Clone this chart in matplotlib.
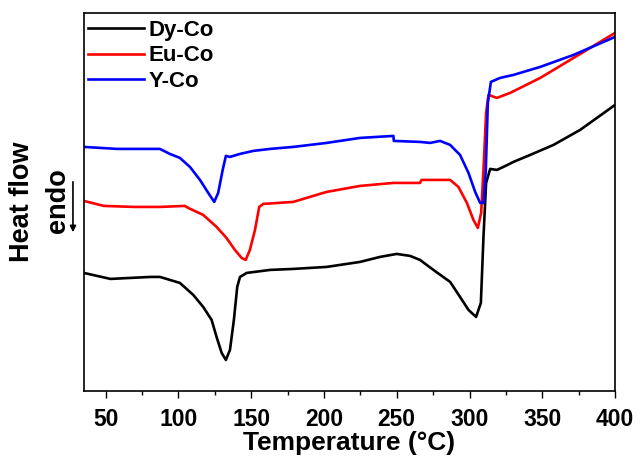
import numpy as np
import matplotlib
matplotlib.use("Agg")
import matplotlib.pyplot as plt
from matplotlib.ticker import MultipleLocator

plt.rcParams['font.family'] = ['Liberation Sans', 'DejaVu Sans']
plt.rcParams['font.weight'] = 'bold'

# Dy-Co
t_dy = [35, 53.3, 80.8, 87.3, 101, 110.2, 117, 122.8, 126.2, 129.7, 132.6, 135.4,
        138.1, 140.4, 142.3, 146.9, 162.9, 178.9, 201.8, 224.8, 238.5, 250, 259.2,
        266, 275.2, 286.7, 293.5, 299.3, 304.5, 307.8, 309.6, 311.4, 314.2, 318.8,
        323.3, 330.2, 341.7, 357.7, 376, 400]
hf_dy = [118, 112, 114, 114, 108, 96, 84, 71, 54, 38, 31, 41,
         71, 104, 114, 118, 121, 122, 124, 129, 134, 137, 135,
         131, 121, 109, 94, 81, 74, 88, 154, 208, 222, 221,
         224, 229, 236, 246, 261, 286]

# Eu-Co
t_eu = [35, 48.8, 69.4, 87.3, 104.4, 106.7, 117, 126.2, 133, 138.8, 143.4, 146.2,
        149.1, 152.6, 155.5, 158.3, 178.9, 190.3, 201.8, 224.8, 247.7, 266, 267,
        286.7, 292.4, 298.2, 302.7, 305.7, 308, 309.6, 311.4, 313, 318.8, 327.9,
        341.7, 348.6, 371.5, 400]
hf_eu = [190, 185, 184, 184, 185, 183, 176, 164, 153, 141, 133, 131,
         141, 161, 184, 187, 189, 194, 199, 205, 208, 208, 211,
         211, 204, 188, 171, 163, 178, 221, 278, 296, 293, 298,
         308, 313, 333, 358]

# Y-Co
t_y = [35, 57.9, 87.3, 94.1, 101, 107.9, 114.8, 120.5, 124.6, 127.3, 130.4, 132.6,
       135.4, 142.3, 151.4, 162.9, 178.9, 201.8, 224.8, 247.7, 248, 266, 272.9,
       279.8, 286.7, 293.5, 299.3, 303.9, 307.3, 309.6, 311.2, 312.6, 314.7, 321,
       330.2, 341.7, 348.6, 371.5, 400]
hf_y = [244, 242, 242, 237, 233, 224, 211, 198, 189, 198, 221, 235,
        234, 237, 240, 242, 244, 248, 253, 255, 250, 249, 248,
        250, 246, 236, 218, 199, 188, 188, 221, 288, 309, 313,
        316, 321, 324, 336, 354]

fig = plt.figure(figsize=(6.4, 4.61), dpi=100)
ax = fig.add_axes([0.131, 0.152, 0.83, 0.82])

ax.plot(t_dy, hf_dy, color='black', lw=1.9, label='Dy-Co')
ax.plot(t_eu, hf_eu, color='red', lw=1.9, label='Eu-Co')
ax.plot(t_y, hf_y, color='blue', lw=1.9, label='Y-Co')

ax.set_xlim(35, 400)
ax.set_ylim(0, 378)
ax.xaxis.set_major_locator(MultipleLocator(50))
ax.xaxis.set_minor_locator(MultipleLocator(25))
ax.set_yticks([])
ax.tick_params(axis='x', which='major', direction='out', length=5, width=1,
               labelsize=16.5, pad=7)
ax.tick_params(axis='x', which='minor', direction='out', length=3, width=1)
for s in ax.spines.values():
    s.set_linewidth(1.2)

ax.set_xlabel('Temperature (°C)', fontsize=19, fontweight='bold', labelpad=0)
fig.text(0.034, 0.562, 'Heat flow', rotation=90, fontsize=19.5, fontweight='bold',
         ha='center', va='center')
fig.text(0.09, 0.565, 'endo', rotation=90, fontsize=19.5, fontweight='bold',
         ha='center', va='center')
ax.annotate('', xy=(0.114, 1 - 235 / 461), xytext=(0.114, 1 - 179 / 461),
            xycoords='figure fraction', textcoords='figure fraction',
            arrowprops=dict(arrowstyle='-|>', color='black', lw=1.2,
                            mutation_scale=9))

ax.legend(loc='upper left', bbox_to_anchor=(0.0, 0.993), frameon=False, fontsize=16,
          handlelength=2.5, handletextpad=0.2, labelspacing=0.2, borderaxespad=0.0,
          borderpad=0.2)

fig.savefig('out.png', dpi=100)
